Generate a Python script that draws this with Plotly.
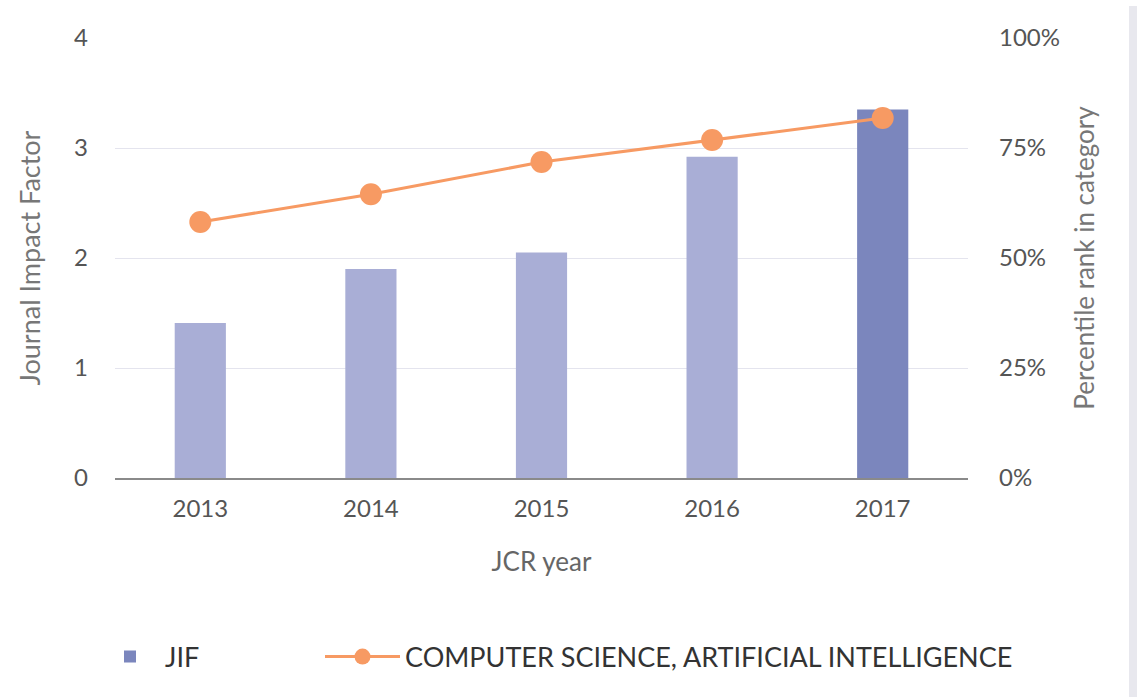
import plotly.graph_objects as go

years = ["2013", "2014", "2015", "2016", "2017"]
jif = [1.41, 1.90, 2.05, 2.92, 3.35]
percentile = [58.2, 64.5, 71.8, 76.8, 81.8]
light_bar = "#a9aed6"
dark_bar = "#7b86bd"
pct_ticks = [0, 25, 50, 75, 100]

FONT = "Lato, 'Open Sans', sans-serif"

fig = go.Figure()
# Current JCR year (highlighted) carries the legend entry
fig.add_trace(go.Bar(
    x=years[-1:], y=jif[-1:], name="JIF", width=0.3,
    marker=dict(color=dark_bar, line=dict(width=0)),
    yaxis="y", legend="legend",
))
# Earlier years
fig.add_trace(go.Bar(
    x=years[:-1], y=jif[:-1], name="JIF (earlier)", width=0.3,
    marker=dict(color=light_bar, line=dict(width=0)),
    yaxis="y", showlegend=False,
))
fig.add_trace(go.Scatter(
    x=years, y=percentile, name="COMPUTER SCIENCE, ARTIFICIAL INTELLIGENCE",
    mode="lines+markers", yaxis="y2", legend="legend2",
    line=dict(color="#f79a63", width=3),
    marker=dict(color="#f79a63", size=22),
))

legend_common = dict(
    orientation="h", yanchor="middle", y=(478 - 657) / 440,
    font=dict(family=FONT, size=27, color="#333333"),
    bgcolor="rgba(0,0,0,0)",
)

fig.update_layout(
    width=1138, height=697,
    margin=dict(l=115, r=170, t=38, b=219, autoexpand=False),
    paper_bgcolor="white", plot_bgcolor="white",
    font=dict(family=FONT, size=24, color="#555555"),
    showlegend=True,
    barmode="overlay",
    legend=dict(legend_common, x=(95 - 115) / 853, xanchor="left", itemwidth=60),
    legend2=dict(legend_common, x=(320 - 115) / 853, xanchor="left", itemwidth=75),
    xaxis=dict(
        type="category", automargin=False,
        categoryorder="array", categoryarray=years,
        title=dict(text="JCR year", font=dict(size=26, color="#666666"), standoff=32),
        showgrid=False, showline=True, linecolor="#8a8a8a", linewidth=2,
        ticks="", tickfont=dict(size=24, color="#555555"), ticklabelstandoff=8,
        zeroline=False,
    ),
    yaxis=dict(
        range=[0, 4], dtick=1, tick0=0, automargin=False,
        title=dict(text="Journal Impact Factor", font=dict(size=27, color="#777777"), standoff=25),
        showgrid=True, gridcolor="#e4e4ee", gridwidth=1,
        zeroline=False, showline=False, ticks="",
        tickfont=dict(size=24, color="#555555"), ticklabelstandoff=26,
    ),
    yaxis2=dict(
        range=[0, 100], tickvals=pct_ticks, ticktext=[f"{v}%" for v in pct_ticks],
        overlaying="y", side="right", automargin=False,
        title=dict(text="Percentile rank in category", font=dict(size=26, color="#777777"), standoff=16),
        showgrid=False, zeroline=False, showline=False, ticks="",
        tickfont=dict(size=24, color="#555555"), ticklabelstandoff=30,
    ),
    shapes=[dict(
        type="rect", xref="paper", yref="paper",
        x0=(1129 - 115) / 853, x1=(1137 - 115) / 853,
        y0=(478 - 697) / 440, y1=(478 - 6) / 440,
        fillcolor="#e8e8ee", line=dict(width=0), layer="above",
    )],
)

fig.write_html(
    "out.html",
    config={"displayModeBar": False},
    post_script="document.body.style.margin='0';document.body.style.overflow='hidden';",
)
